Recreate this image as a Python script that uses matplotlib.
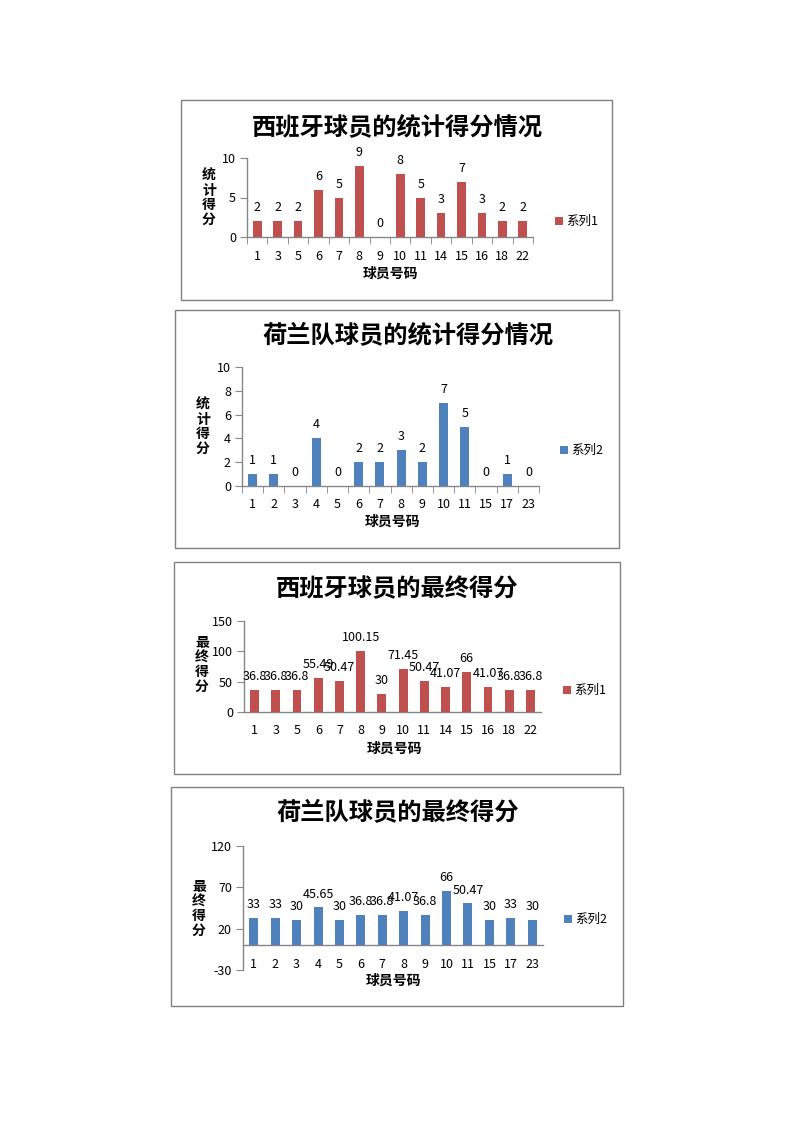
import matplotlib
matplotlib.use("Agg")
import matplotlib.pyplot as plt
from matplotlib.patches import Rectangle

plt.rcParams['font.family'] = ['Noto Sans CJK SC', 'DejaVu Sans']
plt.rcParams['axes.unicode_minus'] = False

# ---------------- data ----------------
esp_players = ["1", "3", "5", "6", "7", "8", "9", "10", "11", "14", "15", "16", "18", "22"]
esp_stats = [2, 2, 2, 6, 5, 9, 0, 8, 5, 3, 7, 3, 2, 2]
esp_final = [36.8, 36.8, 36.8, 55.49, 50.47, 100.15, 30, 71.45, 50.47, 41.07, 66, 41.07, 36.8, 36.8]

ned_players = ["1", "2", "3", "4", "5", "6", "7", "8", "9", "10", "11", "15", "17", "23"]
ned_stats = [1, 1, 0, 4, 0, 2, 2, 3, 2, 7, 5, 0, 1, 0]
ned_final = [33, 33, 30, 45.65, 30, 36.8, 36.8, 41.07, 36.8, 66, 50.47, 30, 33, 30]

titles = ["西班牙球员的统计得分情况", "荷兰队球员的统计得分情况",
          "西班牙球员的最终得分", "荷兰队球员的最终得分"]
ylabels = ["统计得分", "统计得分", "最终得分", "最终得分"]
xlabel = "球员号码"
series_names = ["系列1", "系列2", "系列1", "系列2"]

RED = "#C0504D"
BLUE = "#4F81BD"
AXIS = "#868686"

W, H = 794, 1123
fig = plt.figure(figsize=(W / 100, H / 100), dpi=100)


def fx(x):
    return x / W


def fy(y):
    return 1 - y / H


def box(x0, y0, x1, y1):
    fig.patches.append(Rectangle((fx(x0), fy(y1)), fx(x1) - fx(x0), fy(y0) - fy(y1),
                                 transform=fig.transFigure, fill=False,
                                 edgecolor="#808080", linewidth=1.0))


def fmt(v):
    return ("%g" % v)


charts = [
    dict(box=(181, 100, 612, 300), ax=(247, 533, 158, 237), cats=esp_players, vals=esp_stats,
         color=RED, ylim=(0, 10), yticks=[0, 5, 10], title_xy=(397, 127),
         ylab_xy=(209, 198), xlab_xy=(390, 274), leg_xy=(559, 221), xticks=True, zero_spine=False),
    dict(box=(175, 310, 619, 548), ax=(242, 539, 367, 486), cats=ned_players, vals=ned_stats,
         color=BLUE, ylim=(0, 10), yticks=[0, 2, 4, 6, 8, 10], title_xy=(408, 335),
         ylab_xy=(203, 427), xlab_xy=(392, 522), leg_xy=(564, 450), xticks=True, zero_spine=False),
    dict(box=(174, 562, 620, 774), ax=(244, 541, 621, 712), cats=esp_players, vals=esp_final,
         color=RED, ylim=(0, 150), yticks=[0, 50, 100, 150], title_xy=(397, 589),
         ylab_xy=(202, 665), xlab_xy=(394, 749), leg_xy=(567, 690), xticks=False, zero_spine=False),
    dict(box=(171, 787, 623, 1006), ax=(243, 543, 846, 970), cats=ned_players, vals=ned_final,
         color=BLUE, ylim=(-30, 120), yticks=[-30, 20, 70, 120], title_xy=(398, 812),
         ylab_xy=(199, 909), xlab_xy=(393, 981), leg_xy=(568, 919), xticks=False, zero_spine=True),
]

for i, c in enumerate(charts):
    box(*c["box"])
    l, r, t, b = c["ax"]
    ax = fig.add_axes([fx(l), fy(b), fx(r) - fx(l), fy(t) - fy(b)])
    n = len(c["cats"])
    xs = list(range(n))
    ax.bar(xs, c["vals"], width=0.42, color=c["color"], zorder=3)
    ax.set_xlim(-0.5, n - 0.5)
    ax.set_ylim(*c["ylim"])
    ax.set_yticks(c["yticks"])
    ax.set_xticks(xs)
    ax.set_xticklabels(c["cats"])
    for sp in ["top", "right"]:
        ax.spines[sp].set_visible(False)
    for sp in ["left", "bottom"]:
        ax.spines[sp].set_color(AXIS)
        ax.spines[sp].set_linewidth(1.0)
    if c["zero_spine"]:
        ax.spines["bottom"].set_position(("data", 0))
    ax.tick_params(axis="y", direction="out", length=5, color=AXIS, labelsize=9, pad=3)
    ax.tick_params(axis="x", which="major", length=0, labelsize=9, pad=9)
    if c["xticks"]:
        ax.set_xticks([k - 0.5 for k in range(n + 1)], minor=True)
        ax.tick_params(axis="x", which="minor", direction="out", length=5, color=AXIS)
    for x, v in zip(xs, c["vals"]):
        ax.annotate(fmt(v), (x, v), xytext=(0, 5), textcoords="offset points",
                    ha="center", va="bottom", fontsize=9, zorder=4)
    tx, ty = c["title_xy"]
    fig.text(fx(tx), fy(ty), titles[i], ha="center", va="center", fontsize=17.5,
             fontweight="bold")
    yx, yy = c["ylab_xy"]
    fig.text(fx(yx), fy(yy), "\n".join(ylabels[i]), ha="center", va="center",
             fontsize=10, fontweight="bold", linespacing=1.05)
    xx, xy = c["xlab_xy"]
    fig.text(fx(xx), fy(xy), xlabel, ha="center", va="center", fontsize=10,
             fontweight="bold")
    lx, ly = c["leg_xy"]
    s = 8
    fig.patches.append(Rectangle((fx(lx - s / 2), fy(ly + s / 2)), s / W, s / H,
                                 transform=fig.transFigure, facecolor=c["color"],
                                 edgecolor="none"))
    fig.text(fx(lx + 7), fy(ly), series_names[i], ha="left", va="center", fontsize=9)

fig.savefig("out.png", dpi=100)
